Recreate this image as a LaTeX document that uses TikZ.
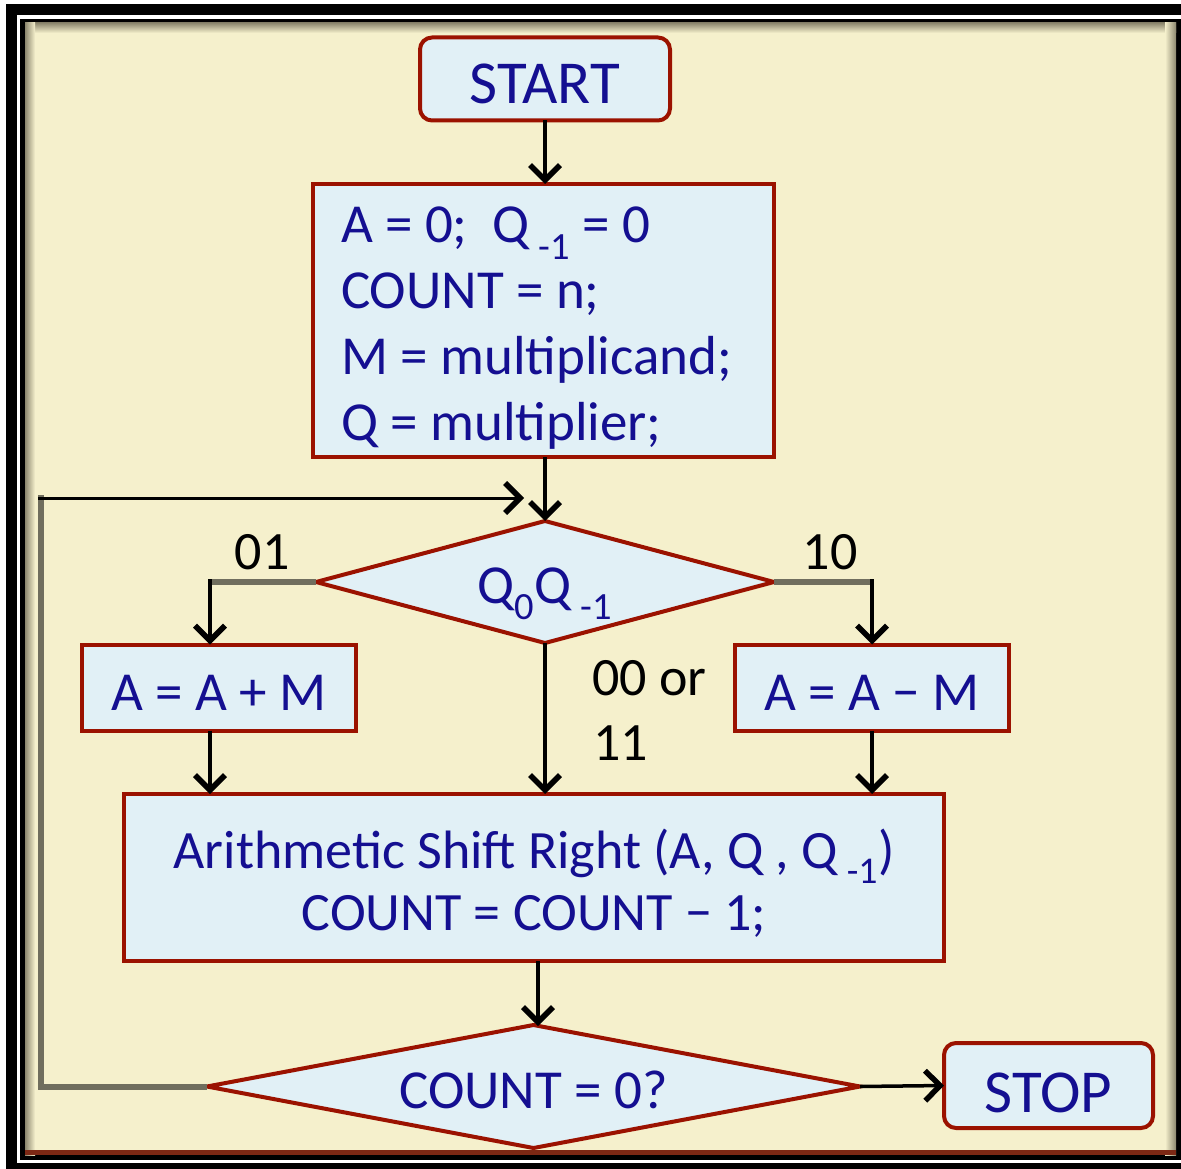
\documentclass[tikz,border=0pt]{standalone}
\usepackage{fontspec}
\setmainfont{Carlito}
\usetikzlibrary{shapes.geometric,arrows.meta,calc}
\definecolor{cream}{RGB}{245,240,204}
\definecolor{boxfill}{RGB}{225,240,246}
\definecolor{boxline}{RGB}{155,18,0}
\definecolor{txt}{RGB}{20,15,145}
\definecolor{conn}{RGB}{112,110,94}
\definecolor{shadow}{RGB}{140,135,110}
\definecolor{bottomline}{RGB}{125,40,20}
\protected\def\myspfix{\spaceskip=0.226em\relax\xspaceskip=0.226em\relax}
\begin{document}
\begin{tikzpicture}[x=1pt,y=-1pt,
  box/.style={draw=boxline, line width=4pt, fill=boxfill, text=txt, inner sep=0pt, outer sep=0pt,
    font=\fontsize{55pt}{66pt}\selectfont},
  term/.style={box, rounded corners=12pt, font=\fontsize{61pt}{70pt}\selectfont},
  dec/.style={box, diamond},
  lbl/.style={text=black, inner sep=0pt, font=\fontsize{54pt}{66pt}\selectfont},
  arr/.style={draw=black, line width=4.5pt, -{Straight Barb[length=15pt,width=30pt,line width=5.5pt]}},
  greyline/.style={draw=conn, line width=6pt}]
\useasboundingbox (0,0) rectangle (1181,1169);
% frame
\fill[white] (0,0) rectangle (1181,1169);
\fill[black] (6,4) rectangle (1181,1169);
\fill[white] (17,15) rectangle (1181,1163);
\fill[black] (20,19) rectangle (1181,1160);
\fill[cream] (25,23) rectangle (1176,1155);
\shade[top color=shadow, bottom color=cream] (25,23) rectangle (1176,33);
\shade[left color=shadow, right color=cream] (25,23) rectangle (35,1155);
\shade[left color=cream, right color=shadow] (1165,23) rectangle (1176,1155);
\fill[bottomline] (25,1150) rectangle (1176,1155);

% nodes
\node[term, minimum width=250pt, minimum height=83pt, text height=50pt, text depth=0pt] (start) at (545,79) {START};
\node[box, minimum width=461pt, minimum height=273pt, text width=405pt, align=left, text height=40pt, text depth=195pt] (init) at (543.5,320.5)
  {\myspfix A = 0;\ \ Q\,\textsubscript{-1} = 0\\COUNT = n;\\M = multiplicand;\\Q = multiplier;};
\node[dec, shape aspect=3.75, minimum width=458pt, minimum height=122pt, text height=42pt, text depth=0pt] (d1) at (545,582) {Q\textsubscript{0}Q\,\textsubscript{-1}};
\node[box, minimum width=274pt, minimum height=86pt, text height=45pt, text depth=0pt] (add) at (219,687.5) {A = A + M};
\node[box, minimum width=274pt, minimum height=86pt, text height=45pt, text depth=0pt] (sub) at (872,687.5) {A = A − M};
\node[box, minimum width=820pt, minimum height=167pt, text width=780pt, align=center, font=\fontsize{54pt}{62pt}\selectfont, text height=40pt, text depth=59pt] (asr) at (534,877.5)
  {\myspfix Arithmetic Shift Right (A, Q , Q\,\textsubscript{-1})\\COUNT = COUNT − 1;};
\node[dec, shape aspect=5.3, minimum width=653pt, minimum height=123pt, text height=43pt, text depth=0pt] (d2) at (533.5,1086.5) {COUNT = 0?};
\node[term, minimum width=209pt, minimum height=85pt, text height=53pt, text depth=0pt] (stop) at (1048.5,1085.5) {STOP};

% labels
\node[lbl] (l01) at (262,552) {01};
\node[lbl] (l10) at (830,552) {10};
\node[lbl, anchor=west] (l00) at (592,678) {00 or};
\node[lbl, anchor=west] (l11) at (593,743) {11};

% coordinates
\coordinate (lb) at (210,582);
\coordinate (rb) at (872,582);
\coordinate (lp1) at (41,1086.5);
\coordinate (lp2) at (41,498);
\coordinate (lp3) at (524,498);

% connectors
\draw[arr] (start.south) -- (start.south |- init.north);
\draw[arr] (545,457) -- (d1.north);
\draw[greyline] (d1.west) -- (lb);
\draw[arr] ($(lb)+(0,-3)$) -- (lb |- add.north);
\draw[greyline] (d1.east) -- (rb);
\draw[arr] ($(rb)+(0,-3)$) -- (rb |- sub.north);
\draw[arr] (d1.south) -- (d1.south |- asr.north);
\draw[arr] (lb |- add.south) -- (lb |- asr.north);
\draw[arr] (rb |- sub.south) -- (rb |- asr.north);
\draw[arr] (538,961) -- (538,1026);
\draw[arr, line width=3.5pt] (d2.east) -- (stop.west);
\draw[greyline] (d2.west) -- (lp1) -- ($(lp2)+(0,-3)$);
\draw[arr, line width=3pt] ($(lp2)+(-3,0)$) -- (lp3);
\end{tikzpicture}
\end{document}
